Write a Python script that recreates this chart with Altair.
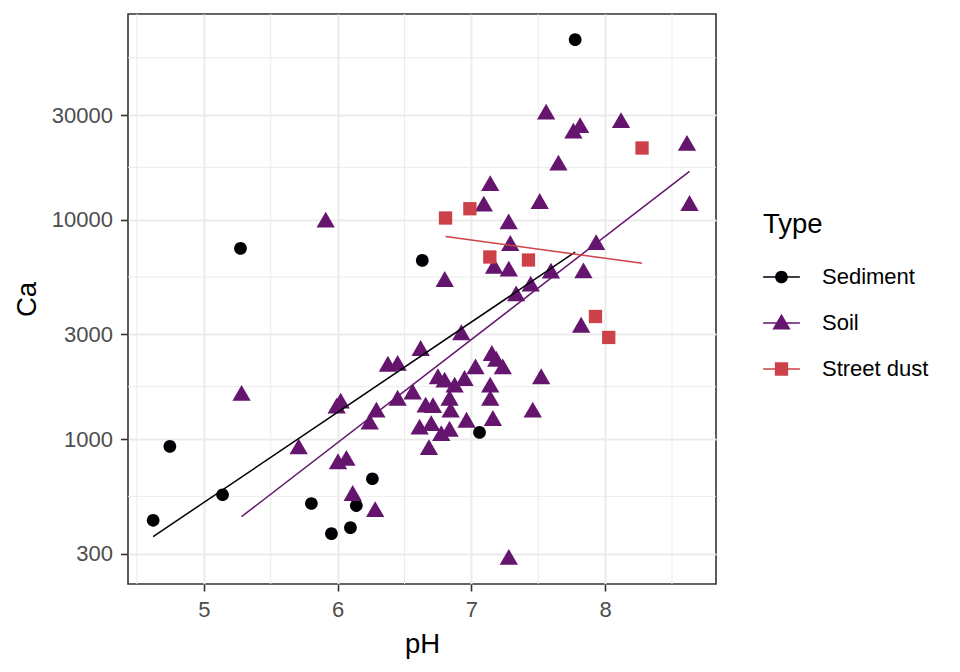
import altair as alt
import pandas as pd

FONT = "Liberation Sans"

types = ["Sediment", "Soil", "Street dust"]
colors = ["#000004", "#65156E", "#CC4248"]

sed_ph = [4.621, 4.746, 5.140, 5.274, 5.804, 5.954, 6.096, 6.140, 6.260, 6.633, 7.061, 7.776]
sed_ca = [426, 925, 557, 7400, 508, 370, 394, 497, 659, 6520, 1072, 66200]

soil_ph = [5.282, 5.709, 5.911, 5.993, 6.023, 6.003, 6.066, 6.113, 6.281, 6.290,
           6.240, 6.376, 6.449, 6.449, 6.561, 6.621, 6.925, 6.750, 6.800, 6.875,
           6.949, 6.658, 6.713, 6.837, 6.845, 6.964, 6.613, 6.700, 6.775, 6.837,
           6.683, 7.153, 7.186, 7.235, 7.031, 7.141, 7.141, 7.522, 7.459, 7.161,
           7.821, 7.280, 7.559, 7.763, 7.813, 8.119, 8.612, 7.651, 7.141, 7.093,
           7.511, 8.631, 7.279, 7.291, 6.801, 7.170, 7.280, 7.933, 7.838, 7.595,
           7.444, 7.335]
soil_ca = [1578, 900, 9730, 1380, 1455, 770, 798, 552, 466, 1324,
           1167, 2143, 2162, 1500, 1602, 2530, 2985, 1879, 1815, 1722,
           1846, 1396, 1388, 1500, 1324, 1191, 1107, 1150, 1035, 1083,
           893, 2399, 2260, 2084, 2084, 1722, 1497, 1879, 1324, 1213,
           3228, 282, 30270, 24780, 26240, 27660, 21780, 17700, 14290, 11520,
           11840, 11590, 9550, 7620, 5220, 6000, 5820, 7690, 5710, 5700,
           4970, 4490]

dust_ph = [6.807, 6.989, 7.138, 7.427, 8.276, 7.928, 8.027]
dust_ca = [10180, 11220, 6760, 6550, 21230, 3620, 2905]

x_major = [5, 6, 7, 8]
x_minor = [4.5, 5.5, 6.5, 7.5, 8.5]
y_major = [300, 1000, 3000, 10000, 30000]
y_minor = [547.7, 1732, 5477, 17321, 54772]

rows = []
for t, xs, ys in [("Sediment", sed_ph, sed_ca), ("Soil", soil_ph, soil_ca), ("Street dust", dust_ph, dust_ca)]:
    for p, c in zip(xs, ys):
        rows.append({"Type": t, "pH": p, "Ca": c})
df = pd.DataFrame(rows)

x_scale = alt.Scale(domain=[4.433, 8.829], nice=False, zero=False)
y_scale = alt.Scale(type="log", domain=[218.2, 86700], nice=False)
color_scale = alt.Scale(domain=types, range=colors)

# point shapes (unit paths)
circ = "M0.694,0A0.694,0.694 0 1,1 -0.694,0A0.694,0.694 0 1,1 0.694,0Z"
tri = "M0,-1.155L1,0.577L-1,0.577Z"
sq = "M-0.727,-0.727L0.727,-0.727L0.727,0.727L-0.727,0.727Z"
shapes = [circ, tri, sq]

# legend key shapes: line + marker
bar = "M-1,-0.042L1,-0.042L1,0.042L-1,0.042Z"
lg_circ = bar + "M0.346,0A0.346,0.346 0 1,1 -0.346,0A0.346,0.346 0 1,1 0.346,0Z"
lg_tri = bar + "M0,-0.5L0.495,0.36L-0.495,0.36Z"
lg_sq = bar + "M-0.362,-0.362L0.362,-0.362L0.362,0.362L-0.362,0.362Z"

x_axis = alt.Axis(values=x_major, title="pH", format="d", grid=True, gridColor="#EBEBEB",
                  gridWidth=2, domain=False, tickColor="#333333", tickWidth=1.6, tickSize=7,
                  labelPadding=8, labelFont=FONT, labelFontSize=22, labelColor="#4D4D4D",
                  labelFlush=False, labelOverlap=False, titleFont=FONT, titleFontSize=27.5,
                  titleFontWeight="normal", titleColor="black", titlePadding=10)
y_axis = alt.Axis(values=y_major, title="Ca", format="d", grid=True, gridColor="#EBEBEB",
                  gridWidth=2, domain=False, tickColor="#333333", tickWidth=1.6, tickSize=7.5,
                  labelPadding=8, labelFont=FONT, labelFontSize=22, labelColor="#4D4D4D",
                  labelFlush=False, labelOverlap=False, titleFont=FONT, titleFontSize=27.5,
                  titleFontWeight="normal", titleColor="black", titlePadding=10)

legend = alt.Legend(title="Type", orient="none", legendX=635, legendY=197, padding=0,
                    titleFont=FONT, titleFontSize=27.5, titleFontWeight="normal",
                    titleColor="black", titlePadding=20, labelFont=FONT, labelFontSize=22,
                    labelColor="black", labelOffset=22, symbolSize=1350, symbolOpacity=1,
                    symbolStrokeWidth=0, rowPadding=16)

X = alt.X("pH:Q", scale=x_scale, axis=x_axis)
Y = alt.Y("Ca:Q", scale=y_scale, axis=y_axis)

xminor = alt.Chart(pd.DataFrame({"v": x_minor})).mark_rule(color="#EBEBEB", strokeWidth=1).encode(
    x=alt.X("v:Q", scale=x_scale, axis=x_axis))
yminor = alt.Chart(pd.DataFrame({"w": y_minor})).mark_rule(color="#EBEBEB", strokeWidth=1).encode(
    y=alt.Y("w:Q", scale=y_scale, axis=y_axis))

point_layers = []
line_layers = []
for t, col, shp in zip(types, colors, shapes):
    sub = alt.Chart(df).transform_filter(alt.datum.Type == t)
    point_layers.append(
        sub.mark_point(filled=True, opacity=1, size=335, strokeWidth=0, fill=col, shape=shp)
        .encode(x=X, y=Y)
    )
    line_layers.append(
        sub.transform_calculate(logCa="log(datum.Ca)/LN10")
        .transform_regression("pH", "logCa", method="linear")
        .transform_calculate(Ca="pow(10, datum.logCa)")
        .mark_line(strokeWidth=1.5, color=col)
        .encode(x=X, y=Y)
    )

# invisible layer that only carries the legend (line + marker keys)
legend_layer = alt.Chart(df).mark_point(filled=True, opacity=0, size=10).encode(
    x=X, y=Y,
    color=alt.Color("Type:N", scale=color_scale, legend=legend),
    shape=alt.Shape("Type:N", scale=alt.Scale(domain=types, range=[lg_circ, lg_tri, lg_sq]),
                    legend=legend),
)

chart = alt.layer(xminor, yminor, *point_layers, *line_layers, legend_layer).properties(
    width=588, height=570,
    autosize=alt.AutoSizeParams(type="none"),
    padding={"left": 120, "top": 6, "right": 236, "bottom": 80},
    background="white",
).configure_view(stroke="#333333", strokeWidth=1.6)

chart.save("out.html", embed_options={"renderer": "svg", "actions": False})
